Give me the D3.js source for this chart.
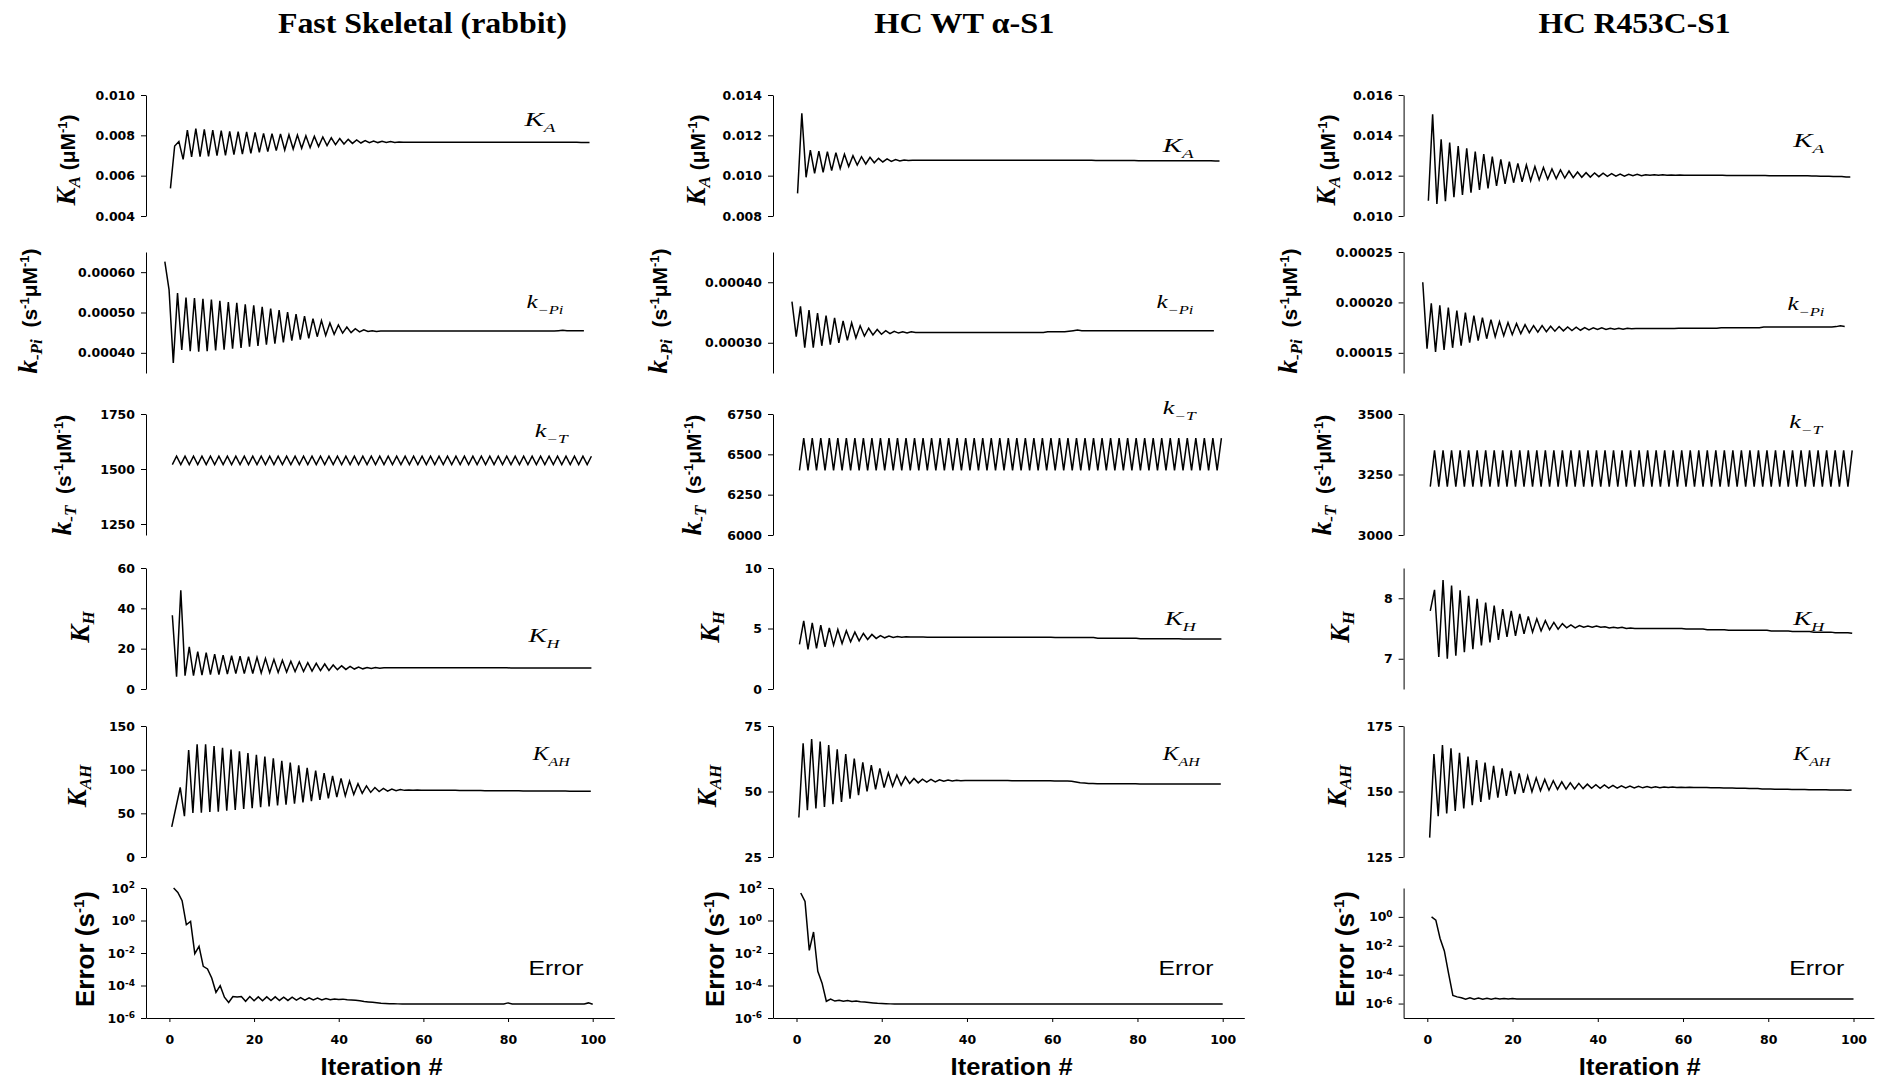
<!DOCTYPE html>
<html>
<head>
<meta charset="utf-8">
<script src="https://cdn.jsdelivr.net/npm/d3@7"></script>
<style>
body { margin: 0; background: #fff; }
svg { display: block; }
.tick text { font-family: "DejaVu Sans", Arial, sans-serif; font-weight: bold; font-size: 12.5px; fill: #000; }
</style>
</head>
<body>
<script>
/* ---------- data (iterations 1..100) ---------- */
var iters = d3.range(1, 101);
var titles = ["Fast Skeletal (rabbit)", "HC WT \u03b1-S1", "HC R453C-S1"];
var xTicks = [0, 20, 40, 60, 80, 100];

// Fast Skeletal (rabbit)
var fsKA = [.00537,.00747,.00769,.00681,.00826,.00693,.00833,.00694,.00830,.00696,
  .00826,.00699,.00823,.00701,.00820,.00704,.00818,.00707,.00817,.00711,
  .00815,.00716,.00810,.00719,.00808,.00724,.00807,.00727,.00803,.00732,
  .00802,.00736,.00798,.00739,.00795,.00744,.00792,.00749,.00788,.00754,
  .00784,.00757,.00780,.00760,.00777,.00762,.00774,.00764,.00772,.00764,
  .00770,.00765,.00769,.00765,.00767,.00766,.00766,.00766,.00766,.00766,
  .00766,.00766,.00766,.00766,.00766,.00766,.00766,.00766,.00766,.00766,
  .00766,.00766,.00766,.00766,.00766,.00766,.00766,.00766,.00766,.00766,
  .00766,.00766,.00766,.00766,.00766,.00766,.00766,.00766,.00766,.00766,
  .00766,.00766,.00766,.00766,.00766,.00766,.00766,.00765,.00765,.00765];
var fsKPi = [.000626,.000556,.000375,.000548,.000407,.000537,.000404,.000536,.000403,.000534,
  .000404,.000532,.000406,.000529,.000408,.000526,.000410,.000524,.000412,.000520,
  .000415,.000518,.000417,.000514,.000420,.000510,.000423,.000506,.000426,.000501,
  .000430,.000496,.000433,.000491,.000436,.000485,.000440,.000480,.000443,.000474,
  .000446,.000469,.000449,.000464,.000450,.000460,.000452,.000457,.000453,.000455,
  .000453,.000454,.000454,.000454,.000454,.000454,.000454,.000454,.000454,.000454,
  .000454,.000454,.000454,.000454,.000454,.000454,.000454,.000454,.000454,.000454,
  .000454,.000454,.000454,.000454,.000454,.000454,.000454,.000454,.000454,.000454,
  .000454,.000454,.000454,.000454,.000454,.000454,.000454,.000454,.000454,.000454,
  .000454,.000454,.000454,.000455,.000456,.000455,.000455,.000455,.000455,.000455];
var fsKT = [1520,1558,1520,1558,1520,1558,1520,1558,1520,1558,
  1520,1558,1520,1558,1520,1558,1520,1558,1520,1558,
  1520,1558,1520,1558,1520,1558,1520,1558,1520,1558,
  1520,1558,1520,1558,1520,1558,1520,1558,1520,1558,
  1520,1558,1520,1558,1520,1558,1520,1558,1520,1558,
  1520,1558,1520,1558,1520,1558,1520,1558,1520,1558,
  1520,1558,1520,1558,1520,1558,1520,1558,1520,1558,
  1520,1558,1520,1558,1520,1558,1520,1558,1520,1558,
  1520,1558,1520,1558,1520,1558,1520,1558,1520,1558,
  1520,1558,1520,1558,1520,1558,1520,1558,1520,1558];
var fsKH = [36.6,6.1,48.9,6.6,20.9,6.6,18.5,6.9,18.0,7.1,
  17.3,7.2,16.8,7.4,16.5,7.6,16.3,7.6,16.0,7.7,
  15.7,7.9,15.2,8.1,14.7,8.2,14.3,8.4,13.8,8.6,
  13.5,8.7,13.0,8.9,12.7,9.1,12.4,9.2,11.9,9.6,
  11.5,9.7,11.2,9.9,10.9,10.0,10.7,10.2,10.6,10.35,
  10.5,10.5,10.5,10.5,10.5,10.5,10.5,10.5,10.5,10.5,
  10.5,10.5,10.5,10.5,10.5,10.5,10.5,10.5,10.5,10.5,
  10.5,10.5,10.5,10.5,10.5,10.5,10.5,10.5,10.5,10.5,
  10.45,10.45,10.45,10.45,10.45,10.45,10.45,10.45,10.45,10.45,
  10.45,10.45,10.45,10.45,10.45,10.45,10.45,10.45,10.45,10.45];
var fsKAH = [34.4,57.0,79.6,46.7,122.5,50.5,129.0,50.6,129.0,51.5,
  127.0,52.0,125.0,53.0,123.0,54.0,121.0,55.0,119.0,56.0,
  117.0,57.0,115.0,58.0,113.0,59.0,110.0,60.0,108.0,61.0,
  105.0,62.5,102.0,64.0,99.0,65.5,96.0,67.0,93.0,68.5,
  90.0,70.0,87.0,71.5,84.0,73.0,81.5,74.0,79.5,75.0,
  78.5,75.5,77.8,76.0,77.2,76.3,76.8,76.5,76.6,76.5,
  76.5,76.5,76.4,76.4,76.4,76.3,76.3,76.3,76.2,76.2,
  76.2,76.1,76.1,76.1,76.0,76.0,76.0,75.9,75.9,75.9,
  75.8,75.8,75.8,75.7,75.7,75.7,75.6,75.6,75.6,75.5,
  75.5,75.5,75.5,75.5,75.4,75.4,75.4,75.4,75.4,75.4];
var fsErr = [100,53.7,16.6,0.55,0.89,9.1e-3,2.6e-2,1.5e-3,1.05e-3,2.9e-4,
  3.8e-5,9.8e-5,1.9e-5,9.1e-6,2.1e-5,1.95e-5,2.1e-5,1.07e-5,2.1e-5,1.15e-5,
  2.0e-5,1.15e-5,2.0e-5,1.2e-5,2.0e-5,1.2e-5,1.9e-5,1.2e-5,1.9e-5,1.25e-5,
  1.8e-5,1.25e-5,1.75e-5,1.3e-5,1.7e-5,1.3e-5,1.6e-5,1.35e-5,1.5e-5,1.4e-5,
  1.45e-5,1.35e-5,1.3e-5,1.25e-5,1.15e-5,1.05e-5,9.8e-6,9.2e-6,8.6e-6,8.1e-6,
  7.8e-6,7.6e-6,7.5e-6,7.4e-6,7.35e-6,7.3e-6,7.3e-6,7.3e-6,7.3e-6,7.3e-6,
  7.3e-6,7.3e-6,7.3e-6,7.3e-6,7.3e-6,7.3e-6,7.3e-6,7.3e-6,7.3e-6,7.3e-6,
  7.3e-6,7.3e-6,7.3e-6,7.3e-6,7.3e-6,7.3e-6,7.3e-6,7.3e-6,7.3e-6,8.5e-6,
  7.4e-6,7.4e-6,7.4e-6,7.4e-6,7.4e-6,7.4e-6,7.4e-6,7.4e-6,7.4e-6,7.4e-6,
  7.4e-6,7.4e-6,7.4e-6,7.4e-6,7.4e-6,7.4e-6,7.4e-6,7.4e-6,8.5e-6,7.0e-6];

// HC WT alpha-S1
var wtKA = [.00912,.01309,.00992,.01127,.01012,.01122,.01017,.01119,.01025,.01114,
  .01036,.01106,.01045,.01099,.01053,.01094,.01058,.01091,.01064,.01086,
  .01068,.01083,.01071,.01080,.01073,.01078,.01075,.01077,.01076,.01076,
  .01076,.01076,.01076,.01076,.01076,.01076,.01076,.01076,.01076,.01076,
  .01076,.01076,.01076,.01076,.01076,.01076,.01076,.01076,.01076,.01076,
  .01076,.01076,.01076,.01076,.01076,.01076,.01076,.01076,.01076,.01076,
  .01076,.01076,.01076,.01076,.01076,.01076,.01076,.01076,.01076,.01076,
  .01075,.01075,.01075,.01075,.01075,.01075,.01075,.01075,.01075,.01075,
  .01074,.01074,.01074,.01074,.01074,.01074,.01074,.01074,.01074,.01074,
  .01074,.01074,.01074,.01074,.01074,.01074,.01074,.01074,.01073,.01073];
var wtKPi = [.000368,.000310,.000360,.000292,.000354,.000292,.000349,.000295,.000345,.000297,
  .000341,.000300,.000336,.000304,.000333,.000308,.000328,.000311,.000324,.000313,
  .000322,.000314,.000320,.000315,.000319,.000316,.000318,.000316,.000318,.000317,
  .000317,.000317,.000317,.000317,.000317,.000317,.000317,.000317,.000317,.000317,
  .000317,.000317,.000317,.000317,.000317,.000317,.000317,.000317,.000317,.000317,
  .000317,.000317,.000317,.000317,.000317,.000317,.000317,.000317,.000317,.000317,
  .000318,.000318,.000318,.000318,.000318,.000319,.000320,.000321,.000320,.000320,
  .000320,.000320,.000320,.000320,.000320,.000320,.000320,.000320,.000320,.000320,
  .000320,.000320,.000320,.000320,.000320,.000320,.000320,.000320,.000320,.000320,
  .000320,.000320,.000320,.000320,.000320,.000320,.000320,.000320,.000320,.000320];
var wtKT = [6400,6600,6400,6600,6400,6600,6400,6600,6400,6600,
  6400,6600,6400,6600,6400,6600,6400,6600,6400,6600,
  6400,6600,6400,6600,6400,6600,6400,6600,6400,6600,
  6400,6600,6400,6600,6400,6600,6400,6600,6400,6600,
  6400,6600,6400,6600,6400,6600,6400,6600,6400,6600,
  6400,6600,6400,6600,6400,6600,6400,6600,6400,6600,
  6400,6600,6400,6600,6400,6600,6400,6600,6400,6600,
  6400,6600,6400,6600,6400,6600,6400,6600,6400,6600,
  6400,6600,6400,6600,6400,6600,6400,6600,6400,6600,
  6400,6600,6400,6600,6400,6600,6400,6600,6400,6600];
var wtKH = [3.68,5.63,3.27,5.47,3.35,5.27,3.49,5.05,3.63,4.92,
  3.76,4.81,3.90,4.70,3.98,4.59,4.09,4.51,4.18,4.42,
  4.23,4.37,4.26,4.33,4.28,4.31,4.29,4.30,4.29,4.29,
  4.28,4.28,4.28,4.28,4.28,4.28,4.28,4.28,4.28,4.28,
  4.28,4.28,4.28,4.28,4.28,4.28,4.28,4.28,4.28,4.28,
  4.27,4.27,4.27,4.27,4.27,4.27,4.27,4.27,4.27,4.27,
  4.25,4.25,4.25,4.25,4.25,4.25,4.25,4.25,4.25,4.25,
  4.20,4.20,4.20,4.20,4.20,4.20,4.20,4.20,4.20,4.20,
  4.16,4.16,4.16,4.16,4.16,4.16,4.16,4.16,4.16,4.16,
  4.13,4.13,4.13,4.13,4.13,4.13,4.13,4.13,4.13,4.13];
var wtKAH = [40.1,68.4,42.9,70.0,43.5,69.1,44.1,67.7,45.2,66.1,
  46.0,64.3,47.3,62.6,48.6,61.1,50.0,60.1,50.8,58.8,
  51.5,57.1,52.0,56.3,52.4,55.6,53.1,55.0,53.3,54.7,
  53.6,54.6,53.7,54.5,53.9,54.4,54.0,54.3,54.1,54.2,
  54.2,54.2,54.2,54.2,54.2,54.2,54.2,54.2,54.2,54.2,
  54.1,54.1,54.1,54.1,54.1,54.1,54.1,54.1,54.1,54.1,
  54.0,54.0,54.0,54.0,53.9,53.6,53.3,53.2,53.1,53.1,
  53.0,53.0,53.0,53.0,53.0,53.0,53.0,53.0,53.0,53.0,
  52.9,52.9,52.9,52.9,52.9,52.9,52.9,52.9,52.9,52.9,
  52.9,52.9,52.9,52.9,52.9,52.9,52.9,52.9,52.9,52.9];
var wtErr = [49,15,1.45e-2,0.195,7.4e-4,1.4e-4,1.07e-5,1.48e-5,1.1e-5,1.25e-5,
  1.08e-5,1.18e-5,1.05e-5,1.1e-5,1.0e-5,9.6e-6,9.0e-6,8.5e-6,8.0e-6,7.7e-6,
  7.5e-6,7.4e-6,7.35e-6,7.3e-6,7.3e-6,7.3e-6,7.3e-6,7.3e-6,7.3e-6,7.3e-6,
  7.3e-6,7.3e-6,7.3e-6,7.3e-6,7.3e-6,7.3e-6,7.3e-6,7.3e-6,7.3e-6,7.3e-6,
  7.3e-6,7.3e-6,7.3e-6,7.3e-6,7.3e-6,7.3e-6,7.3e-6,7.3e-6,7.3e-6,7.3e-6,
  7.3e-6,7.3e-6,7.3e-6,7.3e-6,7.3e-6,7.3e-6,7.3e-6,7.3e-6,7.3e-6,7.3e-6,
  7.3e-6,7.3e-6,7.3e-6,7.3e-6,7.3e-6,7.3e-6,7.3e-6,7.3e-6,7.3e-6,7.3e-6,
  7.3e-6,7.3e-6,7.3e-6,7.3e-6,7.3e-6,7.3e-6,7.3e-6,7.3e-6,7.3e-6,7.3e-6,
  7.3e-6,7.3e-6,7.3e-6,7.3e-6,7.3e-6,7.3e-6,7.3e-6,7.3e-6,7.3e-6,7.3e-6,
  7.3e-6,7.3e-6,7.3e-6,7.3e-6,7.3e-6,7.3e-6,7.3e-6,7.3e-6,7.3e-6,7.3e-6];

// HC R453C-S1
var rcKA = [.01076,.01504,.01060,.01380,.01074,.01364,.01093,.01347,.01104,.01336,
  .01116,.01319,.01129,.01307,.01137,.01294,.01149,.01281,.01159,.01269,
  .01165,.01261,.01170,.01253,.01175,.01245,.01179,.01240,.01182,.01233,
  .01185,.01228,.01188,.01223,.01190,.01218,.01192,.01215,.01193,.01213,
  .01195,.01212,.01197,.01210,.01198,.01208,.01198,.01207,.01200,.01207,
  .01200,.01205,.01202,.01205,.01202,.01204,.01202,.01203,.01202,.01203,
  .01202,.01202,.01202,.01202,.01202,.01202,.01202,.01202,.01202,.01202,
  .01201,.01201,.01201,.01201,.01201,.01201,.01201,.01201,.01201,.01201,
  .01200,.01200,.01200,.01200,.01200,.01199,.01199,.01199,.01199,.01199,
  .01198,.01198,.01197,.01197,.01197,.01196,.01196,.01196,.01193,.01194];
var rcKPi = [.000220,.000154,.000199,.000151,.000197,.000153,.000195,.000155,.000192,.000157,
  .000190,.000160,.000187,.000162,.000185,.000164,.000183,.000166,.000181,.000167,
  .000180,.000168,.000179,.000169,.000178,.000170,.000177,.0001705,.000177,.000171,
  .0001764,.0001715,.0001761,.0001718,.0001757,.0001721,.0001754,.0001724,.0001751,.0001728,
  .0001748,.0001731,.0001748,.0001731,.0001744,.0001734,.0001744,.0001734,.0001744,.0001738,
  .0001741,.0001741,.0001741,.0001741,.0001741,.0001741,.0001741,.0001741,.0001741,.0001741,
  .0001745,.0001745,.0001745,.0001745,.0001745,.0001745,.0001745,.0001745,.0001745,.0001745,
  .0001748,.0001748,.0001748,.0001748,.0001748,.0001748,.0001748,.0001748,.0001748,.0001748,
  .0001757,.0001757,.0001757,.0001757,.0001757,.0001757,.0001757,.0001757,.0001757,.0001757,
  .0001757,.0001757,.0001757,.0001757,.0001757,.0001757,.0001757,.0001760,.0001768,.0001762];
var rcKT = [3200,3350,3200,3350,3200,3350,3200,3350,3200,3350,
  3200,3350,3200,3350,3200,3350,3200,3350,3200,3350,
  3200,3350,3200,3350,3200,3350,3200,3350,3200,3350,
  3200,3350,3200,3350,3200,3350,3200,3350,3200,3350,
  3200,3350,3200,3350,3200,3350,3200,3350,3200,3350,
  3200,3350,3200,3350,3200,3350,3200,3350,3200,3350,
  3200,3350,3200,3350,3200,3350,3200,3350,3200,3350,
  3200,3350,3200,3350,3200,3350,3200,3350,3200,3350,
  3200,3350,3200,3350,3200,3350,3200,3350,3200,3350,
  3200,3350,3200,3350,3200,3350,3200,3350,3200,3350];
var rcKH = [7.79,8.14,7.03,8.30,7.00,8.21,7.05,8.13,7.11,8.04,
  7.16,7.99,7.22,7.93,7.27,7.88,7.31,7.82,7.36,7.79,
  7.38,7.74,7.41,7.70,7.44,7.66,7.46,7.63,7.48,7.60,
  7.49,7.58,7.51,7.56,7.51,7.55,7.52,7.54,7.52,7.54,
  7.52,7.53,7.51,7.52,7.51,7.52,7.50,7.51,7.50,7.50,
  7.50,7.50,7.50,7.50,7.50,7.50,7.50,7.50,7.50,7.50,
  7.49,7.49,7.49,7.49,7.49,7.48,7.48,7.48,7.48,7.48,
  7.47,7.47,7.47,7.47,7.47,7.47,7.47,7.47,7.47,7.47,
  7.46,7.46,7.46,7.46,7.46,7.45,7.45,7.45,7.45,7.45,
  7.44,7.44,7.44,7.44,7.44,7.43,7.43,7.43,7.43,7.42];
var rcKAH = [132.4,164.3,140.6,167.7,141.6,166.5,142.6,164.8,143.5,163.3,
  144.8,162.0,146.0,161.0,146.9,159.8,147.7,158.8,148.3,157.9,
  149.0,156.9,149.5,155.9,149.9,155.2,150.3,154.6,150.5,154.1,
  150.8,153.7,150.9,153.3,151.0,153.1,151.1,152.8,151.2,152.6,
  151.2,152.5,151.3,152.3,151.3,152.2,151.4,152.1,151.4,152.0,
  151.4,151.9,151.4,151.8,151.45,151.75,151.5,151.7,151.5,151.65,
  151.5,151.6,151.5,151.55,151.5,151.5,151.4,151.4,151.4,151.3,
  151.3,151.3,151.2,151.2,151.2,151.1,151.1,151.1,151.0,151.0,
  151.0,150.9,150.9,150.9,150.9,150.8,150.8,150.8,150.8,150.7,
  150.7,150.7,150.7,150.7,150.6,150.6,150.6,150.6,150.5,150.6];
var rcErr = [1.0,0.59,0.032,4.4e-3,1.2e-4,3.7e-6,2.9e-6,2.5e-6,2.0e-6,2.5e-6,
  2.0e-6,2.4e-6,2.0e-6,2.3e-6,2.0e-6,2.3e-6,2.05e-6,2.25e-6,2.05e-6,2.2e-6,
  2.1e-6,2.1e-6,2.1e-6,2.1e-6,2.1e-6,2.1e-6,2.1e-6,2.1e-6,2.1e-6,2.1e-6,
  2.1e-6,2.1e-6,2.1e-6,2.1e-6,2.1e-6,2.1e-6,2.1e-6,2.1e-6,2.1e-6,2.1e-6,
  2.1e-6,2.1e-6,2.1e-6,2.1e-6,2.1e-6,2.1e-6,2.1e-6,2.1e-6,2.1e-6,2.1e-6,
  2.1e-6,2.1e-6,2.1e-6,2.1e-6,2.1e-6,2.1e-6,2.1e-6,2.1e-6,2.1e-6,2.1e-6,
  2.1e-6,2.1e-6,2.1e-6,2.1e-6,2.1e-6,2.1e-6,2.1e-6,2.1e-6,2.1e-6,2.1e-6,
  2.1e-6,2.1e-6,2.1e-6,2.1e-6,2.1e-6,2.1e-6,2.1e-6,2.1e-6,2.1e-6,2.1e-6,
  2.1e-6,2.1e-6,2.1e-6,2.1e-6,2.1e-6,2.1e-6,2.1e-6,2.1e-6,2.1e-6,2.1e-6,
  2.1e-6,2.1e-6,2.1e-6,2.1e-6,2.1e-6,2.1e-6,2.1e-6,2.1e-6,2.1e-6,2.1e-6];

// y domains and tick values, one per row
var fsDomains = [[0.004, 0.010], [0.00035, 0.00065], [1200, 1750], [0, 60], [0, 150], [1e-6, 1e2]];
var wtDomains = [[0.008, 0.014], [0.00025, 0.00045], [6000, 6750], [0, 10], [25, 75], [1e-6, 1e2]];
var rcDomains = [[0.010, 0.016], [0.00013, 0.00025], [3000, 3500], [6.5, 8.5], [125, 175], [1e-7, 1e2]];
var fsTicks = [[.004, .006, .008, .010], [.0004, .0005, .0006], [1250, 1500, 1750], [0, 20, 40, 60], [0, 50, 100, 150], [1e-6, 1e-4, 1e-2, 1, 1e2]];
var wtTicks = [[.008, .010, .012, .014], [.0003, .0004], [6000, 6250, 6500, 6750], [0, 5, 10], [25, 50, 75], [1e-6, 1e-4, 1e-2, 1, 1e2]];
var rcTicks = [[.010, .012, .014, .016], [.00015, .0002, .00025], [3000, 3250, 3500], [7, 8], [125, 150, 175], [1e-6, 1e-4, 1e-2, 1]];

/* ---------- layout ---------- */
var W = 1877, H = 1082;
var SERIF = "'Liberation Serif','Times New Roman',serif";
var SANS = "'Liberation Sans',Arial,sans-serif";

var colX0 = [0, 630, 1260];
var axisX = [146, 773, 1403.6];
var xRange = [[169.4, 592.7], [796.5, 1222.7], [1427.3, 1853.5]];
var xAxisEnd = [614.3, 1244.3, 1873.9];
var rowY = [[216, 95], [373, 252], [535, 414], [689, 568], [857, 726], [1018, 888]];
var rowDx = [-3.2, -8.8, -1.3, -1.3, -1.9, 0];
var rowFmt = [".3f", ".5f", "d", "d", "d", null];
var titleX = [422.4, 964.3, 1634.5], titleW = [289, 180, 192];
var xLabelX = [381.6, 1011.6, 1639.8];

// in-plot labels: [x, baseline] per column per row, and their widths
var tagPos = [
  [[524.5, 126], [526.5, 308], [534.7, 437], [528.6, 642], [532.7, 760], [528.6, 975]],
  [[1162.7, 152], [1156.5, 308], [1162.7, 414], [1164.7, 625], [1162.7, 760], [1158.6, 975]],
  [[1793.3, 147], [1787.4, 310], [1789.3, 428], [1793.3, 625], [1793.3, 760], [1789.3, 975]]
];
var tagW = [31, 37, 33, 31, 37, 55];
var tagParts = [
  [["K", 18, 0], ["A", 12, 6]],
  [["k", 18, 0], ["\u2212Pi", 12, 6]],
  [["k", 18, 0], ["\u2212T", 12, 6]],
  [["K", 18, 0], ["H", 12, 6]],
  [["K", 18, 0], ["AH", 12, 6]]
];

// rotated y-axis labels: [baseline x, centre y], then text parts
var yLabPos = [[75, 160], [37, 311], [71, 475], [89, 627], [86, 786], [94, 949]];
var unitA = [["\u00a0\u00a0(s", SANS, 21, "bold", "normal", -5], ["-1", SANS, 13, "bold", "normal", -8],
             ["\u03bcM", SANS, 21, "bold", "normal", 8], ["-1", SANS, 13, "bold", "normal", -8],
             [")", SANS, 21, "bold", "normal", 8]];
var yLabParts = [
  [["K", SERIF, 27, "bold", "italic", 0], ["A", SERIF, 17, "bold", "italic", 5],
   ["\u00a0(\u03bcM", SANS, 21, "bold", "normal", -5], ["-1", SANS, 13, "bold", "normal", -8], [")", SANS, 21, "bold", "normal", 8]],
  [["k", SERIF, 27, "bold", "italic", 0], ["-Pi", SERIF, 17, "bold", "italic", 5]].concat(unitA),
  [["k", SERIF, 27, "bold", "italic", 0], ["-T", SERIF, 17, "bold", "italic", 5]].concat(unitA),
  [["K", SERIF, 27, "bold", "italic", 0], ["H", SERIF, 17, "bold", "italic", 5]],
  [["K", SERIF, 27, "bold", "italic", 0], ["AH", SERIF, 17, "bold", "italic", 5]],
  [["Error (s", SANS, 26, "bold", "normal", 0], ["-1", SANS, 15, "bold", "normal", -10], [")", SANS, 26, "bold", "normal", 10]]
];

var cols = [
  {series: [fsKA, fsKPi, fsKT, fsKH, fsKAH, fsErr], domains: fsDomains, ticks: fsTicks},
  {series: [wtKA, wtKPi, wtKT, wtKH, wtKAH, wtErr], domains: wtDomains, ticks: wtTicks},
  {series: [rcKA, rcKPi, rcKT, rcKH, rcKAH, rcErr], domains: rcDomains, ticks: rcTicks}
];

var svg = d3.select("body").append("svg").attr("width", W).attr("height", H);

function addParts(text, parts) {
  parts.forEach(function(p) {
    text.append("tspan").text(p[0])
      .attr("font-family", p[1]).attr("font-size", p[2] + "px")
      .attr("font-weight", p[3]).attr("font-style", p[4])
      .attr("dy", p[5]);
  });
}

cols.forEach(function(col, c) {
  // column title
  svg.append("text")
    .attr("x", titleX[c]).attr("y", 33)
    .attr("text-anchor", "middle")
    .attr("font-family", SERIF).attr("font-weight", "bold").attr("font-size", "29px")
    .attr("textLength", titleW[c]).attr("lengthAdjust", "spacingAndGlyphs")
    .text(titles[c]);

  var x = d3.scaleLinear().domain([0, 100]).range(xRange[c]);

  col.series.forEach(function(vals, r) {
    var isLog = (r === 5);
    var y = (isLog ? d3.scaleLog() : d3.scaleLinear())
      .domain(col.domains[r]).range(rowY[r]);

    var yAxis = d3.axisLeft(y).tickValues(col.ticks[r])
      .tickSizeInner(5).tickSizeOuter(0).tickPadding(6);
    if (!isLog) yAxis.tickFormat(d3.format(rowFmt[r]));

    var gy = svg.append("g")
      .attr("transform", "translate(" + axisX[c] + ",0)")
      .call(yAxis);
    gy.selectAll("path, line").attr("stroke", "#000").attr("stroke-width", 1);

    if (isLog) {
      gy.selectAll(".tick text").text(null).each(function(d) {
        var t = d3.select(this);
        t.append("tspan").text("10");
        t.append("tspan").attr("dy", "-0.5em").attr("font-size", "9px")
          .text(String(Math.round(Math.log10(d))));
      });

      // x axis along the bottom panel
      var xLine = d3.scaleLinear()
        .domain([x.invert(axisX[c]), x.invert(xAxisEnd[c])])
        .range([axisX[c], xAxisEnd[c]]);
      var gx = svg.append("g")
        .attr("transform", "translate(0," + rowY[r][0] + ")")
        .call(d3.axisBottom(xLine).tickValues(xTicks).tickSizeInner(4).tickSizeOuter(0).tickPadding(13));
      gx.selectAll("path, line").attr("stroke", "#000").attr("stroke-width", 1);

      svg.append("text")
        .attr("x", xLabelX[c]).attr("y", 1075)
        .attr("text-anchor", "middle")
        .attr("font-family", SANS).attr("font-weight", "bold").attr("font-size", "24px")
        .attr("textLength", 122).attr("lengthAdjust", "spacingAndGlyphs")
        .text("Iteration #");
    }

    // the trace
    var line = d3.line()
      .x(function(d, i) { return x(iters[i]) + rowDx[r]; })
      .y(function(d) { return y(d); });
    svg.append("path").datum(vals)
      .attr("d", line)
      .attr("fill", "none")
      .attr("stroke", "#000")
      .attr("stroke-width", 1.5);

    // label inside the plot
    var tp = tagPos[c][r];
    var tag = svg.append("text").attr("x", tp[0]).attr("y", tp[1]).attr("fill", "#000")
      .attr("textLength", tagW[r]).attr("lengthAdjust", "spacingAndGlyphs");
    if (r < 5) {
      tagParts[r].forEach(function(p) {
        tag.append("tspan").text(p[0])
          .attr("font-family", SERIF).attr("font-style", "italic")
          .attr("font-size", p[1] + "px").attr("dy", p[2]);
      });
    } else {
      tag.attr("font-family", SANS).attr("font-size", "21px").text("Error");
    }

    // rotated y label
    var lp = yLabPos[r];
    var yl = svg.append("text")
      .attr("transform", "translate(" + (colX0[c] + lp[0]) + "," + lp[1] + ") rotate(-90)")
      .attr("text-anchor", "middle")
      .attr("fill", "#000");
    addParts(yl, yLabParts[r]);
  });
});
</script>
</body>
</html>
